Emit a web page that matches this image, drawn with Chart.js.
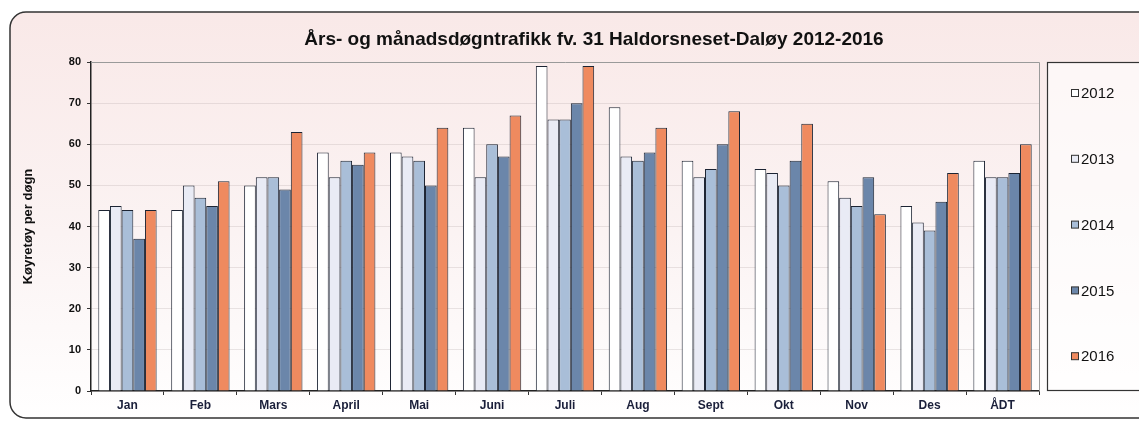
<!DOCTYPE html>
<html><head><meta charset="utf-8">
<script src="https://cdn.jsdelivr.net/npm/chart.js@4/dist/chart.umd.min.js"></script>
<style>html,body{margin:0;padding:0;background:#fff}#w{width:1139px;height:423px}</style>
</head><body><div id="w"><canvas id="c"></canvas></div>
<script>
const categories = ["Jan","Feb","Mars","April","Mai","Juni","Juli","Aug","Sept","Okt","Nov","Des","ÅDT"];
const s2012 = [44,44,50,58,58,64,79,69,56,54,51,45,56];
const s2013 = [45,50,52,52,57,52,66,57,52,53,47,41,52];
const s2014 = [44,47,52,56,56,60,66,56,54,50,45,39,52];
const s2015 = [37,45,49,55,50,57,70,58,60,56,52,46,53];
const s2016 = [44,51,63,58,64,67,79,64,68,65,43,53,60];
const seriesNames = ["2012","2013","2014","2015","2016"];
const yTicks = [0,10,20,30,40,50,60,70,80];
const colors = ["#ffffff","#e9ebf5","#a9bed8","#6b86aa","#ef8a5f"];
const title = "Års- og månadsdøgntrafikk fv. 31 Haldorsneset-Daløy 2012-2016";
const yTitle = "Køyretøy per døgn";

const bgPlugin = {
  id:'bg',
  beforeDraw(chart){
    const ctx = chart.ctx, W = chart.width, H = chart.height;
    ctx.save();
    const g = ctx.createLinearGradient(0,0,0,H);
    g.addColorStop(0,'#f9e8e7'); g.addColorStop(0.55,'#fbf3f3'); g.addColorStop(1,'#ffffff');
    ctx.fillStyle = '#ffffff'; ctx.fillRect(0,0,W,H);
    const x0=10,y0=12,x1=W+20,y1=418,r=16;
    ctx.beginPath();
    ctx.moveTo(x0+r,y0); ctx.lineTo(x1,y0); ctx.lineTo(x1,y1); ctx.lineTo(x0+r,y1);
    ctx.arcTo(x0,y1,x0,y1-r,r); ctx.lineTo(x0,y0+r); ctx.arcTo(x0,y0,x0+r,y0,r); ctx.closePath();
    ctx.fillStyle = g; ctx.fill();
    ctx.lineWidth = 1.5; ctx.strokeStyle = '#333'; ctx.stroke();
    ctx.fillStyle = '#111'; ctx.font = 'bold 19px "Liberation Sans", Arial, sans-serif';
    ctx.textAlign='center'; ctx.textBaseline='middle';
    ctx.fillText(title, 594, 40);
    ctx.restore();
  },
  afterDraw(chart){
    const ctx = chart.ctx, a = chart.chartArea;
    ctx.save();
    ctx.strokeStyle = '#9a9a9a'; ctx.lineWidth = 1;
    ctx.beginPath(); ctx.moveTo(a.left, a.top+0.5); ctx.lineTo(a.right+0.5, a.top+0.5); ctx.lineTo(a.right+0.5, a.bottom); ctx.stroke();
    // legend
    const lx = 1047.5, ly = 62.5, lw = 120, lh = 328;
    ctx.fillStyle = 'rgba(255,255,255,0.6)';
    ctx.fillRect(lx, ly, lw, lh);
    ctx.strokeStyle = '#333'; ctx.lineWidth = 1.2; ctx.strokeRect(lx, ly, lw, lh);
    ctx.font = '15px "Liberation Sans", Arial, sans-serif'; ctx.textBaseline='middle'; ctx.textAlign='left';
    chart.data.datasets.forEach((ds,i)=>{
      const y = 93 + i*65.8;
      ctx.fillStyle = ds.backgroundColor; ctx.fillRect(1071.5, y-3.5, 7, 7);
      ctx.strokeStyle = '#333'; ctx.lineWidth = 1; ctx.strokeRect(1071.5, y-3.5, 7, 7);
      ctx.fillStyle = '#111'; ctx.fillText(ds.label, 1081, y+1);
    });
    ctx.restore();
  }
};

const datasets = [s2012,s2013,s2014,s2015,s2016].map((d,i)=>({
  label: seriesNames[i], data: d, backgroundColor: colors[i],
  borderColor: '#1c2433', borderWidth: 1, borderSkipped: 'bottom',
  categoryPercentage: 0.8, barPercentage: 1.0
}));

new Chart(document.getElementById('c'), {
  type:'bar',
  data:{labels:categories, datasets},
  options:{
    responsive:true, maintainAspectRatio:false, animation:false,
    devicePixelRatio:1,
    layout:{padding:{top:62,right:100,left:21,bottom:0}},
    plugins:{legend:{display:false}, tooltip:{enabled:false}},
    scales:{
      x:{
        grid:{offset:true, drawOnChartArea:false, tickLength:4, color:'#333'},
        border:{color:'#222', width:1.5},
        ticks:{color:'#1a1f3a', font:{family:'"Liberation Sans", Arial, sans-serif', size:12, weight:'bold'}, padding:3},
        afterFit(s){ s.height = 32; }
      },
      y:{
        min:0, max:80,
        afterBuildTicks(s){ s.ticks = yTicks.map(v=>({value:v})); },
        grid:{color:(c)=> c.tick && c.tick.value===80 ? 'rgba(0,0,0,0)' : 'rgba(170,160,160,0.25)', tickLength:4, tickColor:'#333'},
        border:{color:'#222', width:1.5},
        ticks:{color:'#111', font:{family:'"Liberation Sans", Arial, sans-serif', size:11, weight:'bold'}, padding:6},
        title:{display:true, text:yTitle, color:'#111', font:{family:'"Liberation Sans", Arial, sans-serif', size:13, weight:'bold'}, padding:{top:0,bottom:4}},
        afterFit(s){ s.width = 70; }
      }
    }
  },
  plugins:[bgPlugin]
});
</script></body></html>
